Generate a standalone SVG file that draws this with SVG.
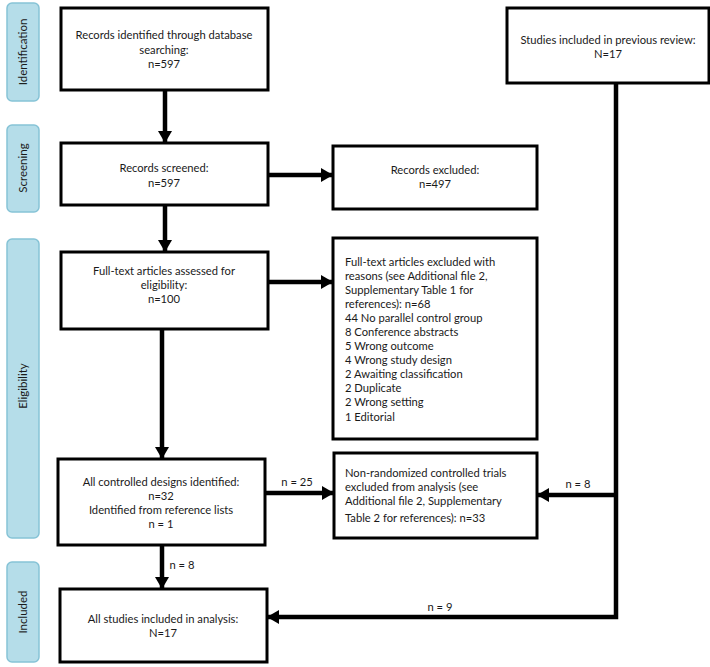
<svg xmlns="http://www.w3.org/2000/svg" width="710" height="667" viewBox="0 0 710 667">
<defs>
<style>
.stage{fill:#b5dde9;stroke:#86c3d6;stroke-width:1.5}
.stxt{font-family:Lato,"Liberation Sans",sans-serif;font-size:11.5px;fill:#1a1a1a;text-anchor:middle}
.box{fill:#fff;stroke:#000;stroke-width:3}
.t{font-family:Lato,"Liberation Sans",sans-serif;font-size:11.2px;fill:#1a1a1a}
.c{text-anchor:middle}
.conn{stroke:#000;stroke-width:4.5;fill:none}
</style>
<marker id="ah" markerUnits="userSpaceOnUse" markerWidth="13" markerHeight="14" refX="12" refY="7" orient="auto">
<path d="M0,0 L12,7 L0,14 Z" fill="#000"/>
</marker>
</defs>
<g id="stage-identification"><rect class="stage" x="7" y="3" width="32" height="98" rx="5"/><text class="stxt" transform="translate(27,52) rotate(-90)">Identification</text></g>
<g id="stage-screening"><rect class="stage" x="7" y="125" width="32" height="87" rx="5"/><text class="stxt" transform="translate(27,168) rotate(-90)">Screening</text></g>
<g id="stage-eligibility"><rect class="stage" x="7" y="239" width="32" height="299" rx="5"/><text class="stxt" transform="translate(27,386) rotate(-90)">Eligibility</text></g>
<g id="stage-included"><rect class="stage" x="7" y="562" width="32" height="100" rx="5"/><text class="stxt" transform="translate(27,612) rotate(-90)">Included</text></g>

<g id="connectors">
<line class="conn" x1="165" y1="90" x2="165" y2="143" marker-end="url(#ah)"/>
<line class="conn" x1="268" y1="175" x2="333" y2="175" marker-end="url(#ah)"/>
<line class="conn" x1="165" y1="205" x2="165" y2="252" marker-end="url(#ah)"/>
<line class="conn" x1="268" y1="282" x2="333" y2="282" marker-end="url(#ah)"/>
<line class="conn" x1="162" y1="329" x2="162" y2="459" marker-end="url(#ah)"/>
<line class="conn" x1="265" y1="493" x2="334" y2="493" marker-end="url(#ah)"/>
<line class="conn" x1="162" y1="545" x2="162" y2="589" marker-end="url(#ah)"/>
<polyline class="conn" points="616,83 616,617 267,617" marker-end="url(#ah)"/>
<line class="conn" x1="616" y1="495" x2="537" y2="495" marker-end="url(#ah)"/>
<text class="t c" x="297" y="486">n = 25</text>
<text class="t c" x="578" y="488">n = 8</text>
<text class="t c" x="182" y="569">n = 8</text>
<text class="t c" x="440" y="611">n = 9</text>
</g>

<g id="n-identified"><rect class="box" x="61" y="8" width="207" height="82"/>
<text class="t c" x="164" y="39">Records identified through database</text>
<text class="t c" x="164" y="54">searching:</text>
<text class="t c" x="164" y="68">n=597</text></g>

<g id="n-previous"><rect class="box" x="507" y="8" width="202" height="75"/>
<text class="t c" x="608" y="44">Studies included in previous review:</text>
<text class="t c" x="608" y="58">N=17</text></g>

<g id="n-screened"><rect class="box" x="61" y="143" width="207" height="62"/>
<text class="t c" x="164" y="172">Records screened:</text>
<text class="t c" x="164" y="187">n=597</text></g>

<g id="n-excluded"><rect class="box" x="333" y="146" width="204" height="63"/>
<text class="t c" x="435" y="174">Records excluded:</text>
<text class="t c" x="435" y="188">n=497</text></g>

<g id="n-fulltext"><rect class="box" x="61" y="252" width="207" height="77"/>
<text class="t c" x="164" y="275">Full-text articles assessed for</text>
<text class="t c" x="164" y="289">eligibility:</text>
<text class="t c" x="164" y="303">n=100</text></g>

<g id="n-ft-excluded"><rect class="box" x="333" y="238" width="204" height="201"/>
<text class="t" x="345" y="266">Full-text articles excluded with</text>
<text class="t" x="345" y="280">reasons (see Additional file 2,</text>
<text class="t" x="345" y="294">Supplementary Table 1 for</text>
<text class="t" x="345" y="308">references): n=68</text>
<text class="t" x="345" y="322">44 No parallel control group</text>
<text class="t" x="345" y="336">8 Conference abstracts</text>
<text class="t" x="345" y="350">5 Wrong outcome</text>
<text class="t" x="345" y="364">4 Wrong study design</text>
<text class="t" x="345" y="378">2 Awaiting classification</text>
<text class="t" x="345" y="392">2 Duplicate</text>
<text class="t" x="345" y="406">2 Wrong setting</text>
<text class="t" x="345" y="421">1 Editorial</text></g>

<g id="n-controlled"><rect class="box" x="58" y="459" width="207" height="86"/>
<text class="t c" x="161" y="486">All controlled designs identified:</text>
<text class="t c" x="161" y="500">n=32</text>
<text class="t c" x="161" y="514">Identified from reference lists</text>
<text class="t c" x="161" y="528">n = 1</text></g>

<g id="n-nrct"><rect class="box" x="334" y="453" width="203" height="85"/>
<text class="t" x="345" y="477">Non-randomized controlled trials</text>
<text class="t" x="345" y="491">excluded from analysis (see</text>
<text class="t" x="345" y="505">Additional file 2, Supplementary</text>
<text class="t" x="345" y="522">Table 2 for references): n=33</text></g>

<g id="n-included"><rect class="box" x="60" y="589" width="207" height="73"/>
<text class="t c" x="163" y="623">All studies included in analysis:</text>
<text class="t c" x="163" y="637">N=17</text></g>
</svg>
